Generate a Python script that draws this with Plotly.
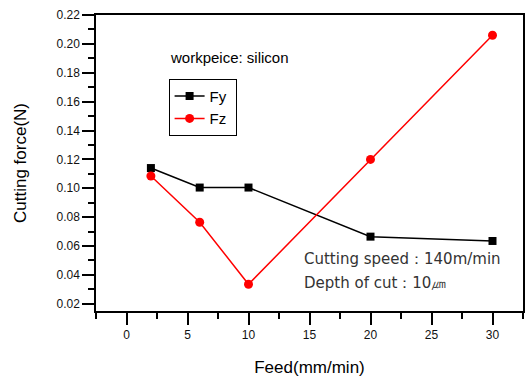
import plotly.graph_objects as go

feed = [2, 6, 10, 20, 30]
fy = [0.114, 0.1005, 0.1005, 0.0665, 0.0635]
fz = [0.1085, 0.0765, 0.0335, 0.1200, 0.2060]
y_ticks = [0.02, 0.04, 0.06, 0.08, 0.10, 0.12, 0.14, 0.16, 0.18, 0.20, 0.22]
x_ticks = [0, 5, 10, 15, 20, 25, 30]

fig = go.Figure()
fig.add_trace(go.Scatter(x=feed, y=fy, name="Fy\u00a0", mode="lines+markers",
                         line=dict(color="black", width=1.5),
                         marker=dict(symbol="square", size=8, color="black")))
fig.add_trace(go.Scatter(x=feed, y=fz, name="Fz\u00a0", mode="lines+markers",
                         line=dict(color="red", width=1.5),
                         marker=dict(symbol="circle", size=9, color="red")))

axis_common = dict(showline=True, linecolor="black", linewidth=1.5, mirror=True,
                   ticks="outside", ticklen=12, tickwidth=1.5, tickcolor="black",
                   showgrid=False, zeroline=False,
                   tickfont=dict(family="Liberation Sans, Arial", size=12, color="#111"),
                   title_font=dict(family="Liberation Sans, Arial", size=17, color="black"))

fig.update_xaxes(range=[-2.5, 32.5], tickvals=x_ticks, title_text="Feed(mm/min)",
                 title_standoff=20,
                 minor=dict(ticks="outside", ticklen=6, tickwidth=1.5, tickcolor="black", dtick=2.5, tick0=0),
                 **axis_common)
fig.update_yaxes(range=[0.015, 0.22], tickvals=y_ticks, tickformat=".2f", title_text="Cutting force(N)",
                 title_standoff=26,
                 minor=dict(ticks="outside", ticklen=6, tickwidth=1.5, tickcolor="black", dtick=0.01, tick0=0),
                 **axis_common)

fig.add_annotation(x=0.168, y=0.858, xref="paper", yref="paper", xanchor="left", yanchor="middle",
                   text="workpeice: silicon", showarrow=False,
                   font=dict(family="Liberation Sans, Arial", size=15, color="black"))
fig.add_annotation(x=0.483, y=0.174, xref="paper", yref="paper", xanchor="left", yanchor="middle",
                   text="Cutting speed：140m/min", showarrow=False,
                   font=dict(family="DejaVu Sans", size=15, color="#333"))
fig.add_annotation(x=0.483, y=0.096, xref="paper", yref="paper", xanchor="left", yanchor="middle",
                   text="Depth of cut：10㎛", showarrow=False,
                   font=dict(family="DejaVu Sans", size=15, color="#333"))

fig.update_layout(
    width=529, height=378,
    margin=dict(l=96, r=4, t=15, b=66),
    paper_bgcolor="white", plot_bgcolor="white",
    legend=dict(x=0.170, y=0.785, xanchor="left", yanchor="top",
                bordercolor="black", borderwidth=1, bgcolor="white",
                font=dict(family="Liberation Sans, Arial", size=15, color="black"),
                tracegroupgap=0, itemwidth=30),
    showlegend=True,
)

fig.write_html("out.html")
